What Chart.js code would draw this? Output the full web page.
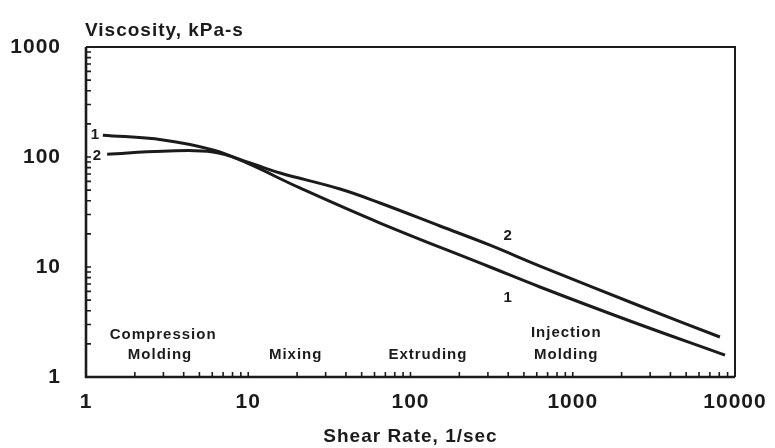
<!DOCTYPE html>
<html>
<head>
<meta charset="utf-8">
<script src="https://cdn.jsdelivr.net/npm/chart.js@4.4.1/dist/chart.umd.min.js"></script>
<style>
  html, body { margin: 0; padding: 0; background: #fff; }
  #wrap { width: 775px; height: 448px; position: relative; }
</style>
</head>
<body>
<div id="wrap"><canvas id="visc"></canvas></div>
<script>
(function () {
  'use strict';

  // shear rate (1/sec) and viscosity (kPa-s)
  const rate1 = [1.27, 2.98, 6.06, 9.8, 20.8, 64.9, 309, 628, 2254, 8677];
  const visc1 = [158, 143, 116, 88.2, 52.3, 25.1, 10.0, 6.58, 3.23, 1.58];
  const rate2 = [1.35, 2.98, 6.06, 10.7, 15.7, 36.8, 64.9, 152, 309, 628, 2596, 8074];
  const visc2 = [106, 113, 111, 86.3, 71.6, 51.2, 38.2, 23.6, 15.8, 10.2, 4.42, 2.31];

  const majorTicks = [1, 10, 100, 1000, 10000];

  // text placed on the plot, in data units
  const notes = [
    { text: 'Compression', x: 2.99, y: 2.41, align: 'center' },
    { text: 'Molding', x: 2.86, y: 1.58, align: 'center' },
    { text: 'Mixing', x: 19.6, y: 1.58, align: 'center' },
    { text: 'Extruding', x: 128, y: 1.58, align: 'center' },
    { text: 'Injection', x: 912, y: 2.51, align: 'center' },
    { text: 'Molding', x: 912, y: 1.58, align: 'center' },
    { text: '1', x: 1.07, y: 158, align: 'left' },
    { text: '2', x: 1.1, y: 102, align: 'left' },
    { text: '2', x: 400, y: 19.1, align: 'center' },
    { text: '1', x: 400, y: 5.2, align: 'center' }
  ];

  const INK = '#1b1b1b';
  const FAMILY = '"Liberation Sans", Arial, sans-serif';
  const toPts = (xs, ys) => xs.map((v, i) => ({ x: v, y: ys[i] }));

  const decorPlugin = {
    id: 'decor',
    beforeDraw(ci) {
      ci.ctx.letterSpacing = '1px';
    },
    afterDraw(ci) {
      const { ctx, chartArea: a, scales: { x, y } } = ci;
      ctx.save();
      ctx.strokeStyle = INK;
      // frame
      ctx.lineWidth = 2;
      ctx.beginPath();
      ctx.moveTo(a.left, a.top); ctx.lineTo(a.right, a.top); ctx.lineTo(a.right, a.bottom);
      ctx.stroke();
      ctx.lineWidth = 2.6;
      ctx.beginPath();
      ctx.moveTo(a.left, a.top); ctx.lineTo(a.left, a.bottom); ctx.lineTo(a.right, a.bottom);
      ctx.stroke();
      // inward ticks
      ctx.lineWidth = 1.6;
      ctx.beginPath();
      for (let d = 1; d < 10000; d *= 10) {
        for (let k = 1; k <= 10; k++) {
          const px = x.getPixelForValue(d * k);
          ctx.moveTo(px, a.bottom); ctx.lineTo(px, a.bottom - 5);
        }
      }
      for (let d = 1; d < 1000; d *= 10) {
        for (let k = 1; k <= 10; k++) {
          const py = y.getPixelForValue(d * k);
          ctx.moveTo(a.left, py); ctx.lineTo(a.left + 5, py);
        }
      }
      ctx.stroke();
      // texts
      ctx.fillStyle = INK;
      ctx.textBaseline = 'middle';
      ctx.font = 'bold 19px ' + FAMILY;
      ctx.textAlign = 'left';
      ctx.fillText('Viscosity, kPa-s', a.left - 1, 31);
      ctx.font = 'bold 15px ' + FAMILY;
      notes.forEach(n => {
        ctx.textAlign = n.align;
        ctx.fillText(n.text, x.getPixelForValue(n.x), y.getPixelForValue(n.y));
      });
      ctx.restore();
    }
  };

  const tickFont = { family: FAMILY, size: 21, weight: 'bold' };
  const showMajor = v => majorTicks.includes(Math.round(v)) && Math.abs(Math.log10(v) % 1) < 1e-6 ? String(Math.round(v)) : '';

  new Chart(document.getElementById('visc'), {
    type: 'scatter',
    data: {
      datasets: [
        { label: '1', data: toPts(rate1, visc1) },
        { label: '2', data: toPts(rate2, visc2) }
      ].map(ds => Object.assign(ds, {
        showLine: true, borderColor: INK, borderWidth: 3, pointRadius: 0,
        tension: 0.4, fill: false
      }))
    },
    options: {
      animation: false,
      responsive: true,
      maintainAspectRatio: false,
      layout: { padding: { left: 0, right: 40, top: 47, bottom: 0 } },
      plugins: { legend: { display: false }, tooltip: { enabled: false } },
      scales: {
        x: {
          type: 'logarithmic', min: 1, max: 10000,
          grid: { display: false },
          border: { display: false },
          ticks: { autoSkip: false, maxRotation: 0, color: INK, font: tickFont, padding: 5, callback: showMajor },
          title: {
            display: true, text: 'Shear Rate, 1/sec', color: INK,
            font: { family: FAMILY, size: 19, weight: 'bold' }, padding: { top: 0, bottom: 0 }
          },
          afterFit(s) { s.height = 71; }
        },
        y: {
          type: 'logarithmic', min: 1, max: 1000,
          grid: { display: false },
          border: { display: false },
          ticks: { autoSkip: false, color: INK, font: tickFont, padding: 17, callback: showMajor },
          afterFit(s) { s.width = 86; }
        }
      }
    },
    plugins: [decorPlugin]
  });
})();
</script>
</body>
</html>
